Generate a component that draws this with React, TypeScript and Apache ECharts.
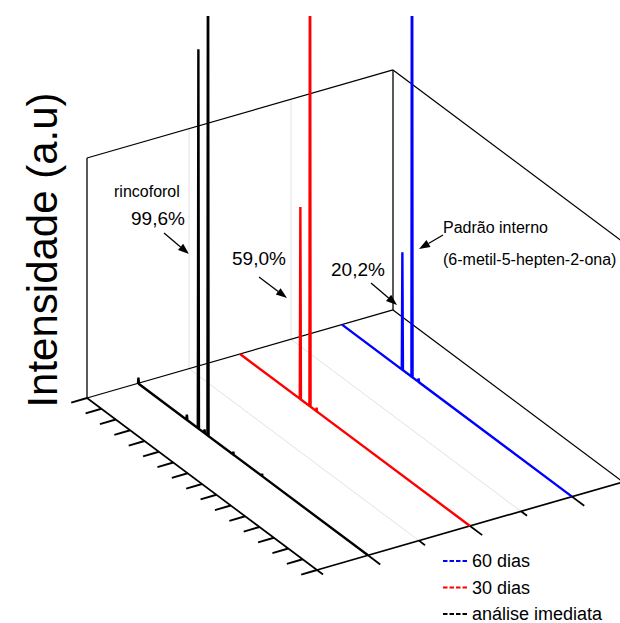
import React, { useEffect, useRef } from "react";
import * as echarts from "echarts";

// ---------- data ----------
const SERIES_NAMES = ["análise imediata", "30 dias", "60 dias"];
const SERIES_COLORS = ["#000000", "#ff0000", "#0000ff"];
const SERIES_DEPTH = [0, 1, 2];
const LEGEND_ORDER = ["60 dias", "30 dias", "análise imediata"];

// retention time (min) and intensity (a.u.) of each chromatogram
const analiseImediata: number[][] = [
  [0, 0], [0.03, 2.5], [0.07, 0], [3.36, 0], [3.4, 2.2], [3.44, 0],
  [4.16, 0], [4.2, 158], [4.24, 0], [4.6, 0], [4.63, 1.5], [4.66, 0],
  [4.83, 0], [4.87, 260], [4.91, 0], [6.6, 0], [6.63, 1.2], [6.66, 0],
  [8.6, 0], [8.63, 1.0], [8.66, 0], [16, 0],
];
const dias30: number[][] = [
  [0, 0], [4.16, 0], [4.2, 80], [4.24, 0], [4.83, 0], [4.87, 260],
  [4.91, 0], [5.3, 0], [5.33, 1.5], [5.36, 0], [16, 0],
];
const dias60: number[][] = [
  [0, 0], [4.16, 0], [4.2, 49], [4.24, 0], [4.83, 0], [4.87, 260],
  [4.91, 0], [5.3, 0], [5.33, 1.5], [5.36, 0], [16, 0],
];
const SERIES_POINTS = [analiseImediata, dias30, dias60];

const TIME_MIN = 0;
const TIME_MAX = 16;
const TIME_TICKS = [0, 1, 2, 3, 4, 5, 6, 7, 8, 9, 10, 11, 12, 13, 14, 15, 16];
const DEPTH_MIN = -0.5;
const DEPTH_MAX = 2.5;
const DEPTH_MAJOR = [0, 1, 2];
const DEPTH_MINOR = [-0.5, 0.5, 1.5, 2.5];
const DEPTH_GRID = [0.5, 1.5];
const INTENSITY_MAX = 100;

// ---------- oblique projection (layout) ----------
const ORIGIN = [87, 398];
const TIME_VEC = [230 / 16, 172 / 16];
const DEPTH_VEC = [102, -29.35];
const UP_VEC = [0, -2.4];

function proj(t: number, z: number, i: number): number[] {
  const dt = t - TIME_MIN;
  const dz = z - DEPTH_MIN;
  return [
    ORIGIN[0] + dt * TIME_VEC[0] + dz * DEPTH_VEC[0] + i * UP_VEC[0],
    ORIGIN[1] + dt * TIME_VEC[1] + dz * DEPTH_VEC[1] + i * UP_VEC[1],
  ];
}

const FONT = "'Liberation Sans', Arial, Helvetica, sans-serif";

function arrow(x1: number, y1: number, x2: number, y2: number) {
  const dx = x2 - x1, dy = y2 - y1;
  const len = Math.sqrt(dx * dx + dy * dy);
  const ux = dx / len, uy = dy / len;
  const hl = 11, hw = 4;
  const bx = x2 - ux * hl, by = y2 - uy * hl;
  return [
    { type: "line", shape: { x1, y1, x2: bx, y2: by }, style: { stroke: "#000", lineWidth: 1.3 } },
    {
      type: "polygon",
      shape: { points: [[x2, y2], [bx - uy * hw, by + ux * hw], [bx + uy * hw, by - ux * hw]] },
      style: { fill: "#000" },
    },
  ];
}

function lineEl(api: any, a: number[], b: number[], stroke: string, lineWidth: number) {
  const p = api.coord(a);
  const q = api.coord(b);
  return { type: "line", shape: { x1: p[0], y1: p[1], x2: q[0], y2: q[1] }, style: { stroke, lineWidth } };
}

export default function App() {
  const ref = useRef<HTMLDivElement>(null);
  useEffect(() => {
    document.body.style.margin = "0";
    const chart = echarts.init(ref.current!, null, { renderer: "svg" });

    const gridSeries = {
      type: "custom",
      name: "grid",
      silent: true,
      clip: true,
      data: [[0, 0]],
      renderItem: (params: any, api: any) => {
        const children: any[] = [];
        DEPTH_GRID.forEach((z) => {
          children.push(lineEl(api, proj(TIME_MIN, z, 0), proj(TIME_MIN, z, INTENSITY_MAX), "#e2e2e2", 1));
          children.push(lineEl(api, proj(TIME_MIN, z, 0), proj(TIME_MAX, z, 0), "#e2e2e2", 1));
        });
        return { type: "group", children };
      },
    };

    const frameSeries = {
      type: "custom",
      name: "frame",
      silent: true,
      clip: true,
      data: [[0, 0]],
      renderItem: (params: any, api: any) => {
        const c: any[] = [];
        const k = "#000";
        const w = 1.3;
        // back wall
        c.push(lineEl(api, proj(TIME_MIN, DEPTH_MIN, 0), proj(TIME_MIN, DEPTH_MIN, INTENSITY_MAX), k, w));
        c.push(lineEl(api, proj(TIME_MIN, DEPTH_MAX, 0), proj(TIME_MIN, DEPTH_MAX, INTENSITY_MAX), k, w));
        c.push(lineEl(api, proj(TIME_MIN, DEPTH_MIN, INTENSITY_MAX), proj(TIME_MIN, DEPTH_MAX, INTENSITY_MAX), k, w));
        c.push(lineEl(api, proj(TIME_MIN, DEPTH_MIN, 0), proj(TIME_MIN, DEPTH_MAX, 0), k, w));
        // floor
        c.push(lineEl(api, proj(TIME_MIN, DEPTH_MIN, 0), proj(TIME_MAX, DEPTH_MIN, 0), k, 1.7));
        c.push(lineEl(api, proj(TIME_MAX, DEPTH_MIN, 0), proj(TIME_MAX, DEPTH_MAX, 0), k, 1.7));
        c.push(lineEl(api, proj(TIME_MIN, DEPTH_MAX, 0), proj(TIME_MAX, DEPTH_MAX, 0), k, w));
        // right wall
        c.push(lineEl(api, proj(TIME_MIN, DEPTH_MAX, INTENSITY_MAX), proj(TIME_MAX, DEPTH_MAX, INTENSITY_MAX), k, w));
        c.push(lineEl(api, proj(TIME_MAX, DEPTH_MAX, 0), proj(TIME_MAX, DEPTH_MAX, INTENSITY_MAX), k, w));
        // time ticks (left floor edge)
        TIME_TICKS.forEach((t) => {
          c.push(lineEl(api, proj(t, DEPTH_MIN, 0), proj(t, DEPTH_MIN - 0.155, 0), k, 1.9));
        });
        // depth ticks (front floor edge)
        DEPTH_MAJOR.forEach((z) => {
          c.push(lineEl(api, proj(TIME_MAX, z, 0), proj(TIME_MAX + 0.85, z, 0), k, 1.8));
        });
        DEPTH_MINOR.forEach((z) => {
          c.push(lineEl(api, proj(TIME_MAX, z, 0), proj(TIME_MAX + 0.42, z, 0), k, 1.8));
        });
        return { type: "group", children: c };
      },
    };

    const chromSeries = [2, 1, 0].map((s) => ({
      type: "custom",
      name: SERIES_NAMES[s],
      silent: true,
      clip: true,
      itemStyle: { color: SERIES_COLORS[s] },
      data: SERIES_POINTS[s],
      renderItem: (params: any, api: any) => {
        if (params.dataIndex !== 0) return null;
        const pts = SERIES_POINTS[s].map(([t, i]) => api.coord(proj(t, SERIES_DEPTH[s], i)));
        return {
          type: "polyline",
          shape: { points: pts },
          style: { stroke: SERIES_COLORS[s], lineWidth: 2.4, fill: null, lineJoin: "miter" },
        };
      },
    }));

    const dashIcon =
      "path://M0,0H4.5V2H0Z M6.5,0H11V2H6.5Z M13,0H17.5V2H13Z M19.5,0H24V2H19.5Z";

    const graphic: any[] = [
      {
        type: "text",
        x: 42,
        y: 250,
        rotation: Math.PI / 2,
        style: {
          text: "Intensidade (a.u)",
          font: `42px ${FONT}`,
          fill: "#000",
          align: "center",
          verticalAlign: "middle",
        },
      },
      { type: "text", x: 114, y: 191, style: { text: "rincoforol", font: `16px ${FONT}`, fill: "#000", verticalAlign: "middle" } },
      { type: "text", x: 131, y: 218, style: { text: "99,6%", font: `19px ${FONT}`, fill: "#000", verticalAlign: "middle" } },
      { type: "text", x: 232, y: 258, style: { text: "59,0%", font: `19px ${FONT}`, fill: "#000", verticalAlign: "middle" } },
      { type: "text", x: 331, y: 269, style: { text: "20,2%", font: `19px ${FONT}`, fill: "#000", verticalAlign: "middle" } },
      { type: "text", x: 443, y: 227, style: { text: "Padrão interno", font: `16px ${FONT}`, fill: "#000", verticalAlign: "middle" } },
      { type: "text", x: 443, y: 259, style: { text: "(6-metil-5-hepten-2-ona)", font: `16px ${FONT}`, fill: "#000", verticalAlign: "middle" } },
      ...arrow(164, 233, 189, 254),
      ...arrow(259, 277, 287, 298),
      ...arrow(371, 283, 397, 305),
      ...arrow(443, 235, 419, 249),
    ];

    chart.setOption({
      animation: false,
      grid: { left: 0, right: 0, top: 16, bottom: 0 },
      xAxis: { type: "value", min: 0, max: 620, show: false },
      yAxis: { type: "value", min: 16, max: 623, inverse: true, show: false },
      legend: {
        data: LEGEND_ORDER,
        orient: "vertical",
        left: 443,
        top: 552,
        height: 90,
        padding: 0,
        itemWidth: 24,
        itemHeight: 2,
        itemGap: 8.5,
        icon: dashIcon,
        selectedMode: false,
        textStyle: { fontSize: 18, fontFamily: FONT, color: "#000" },
      },
      series: [gridSeries, frameSeries, ...chromSeries],
      graphic,
    });
    return () => chart.dispose();
  }, []);
  return <div ref={ref} style={{ width: 620, height: 623 }} />;
}
